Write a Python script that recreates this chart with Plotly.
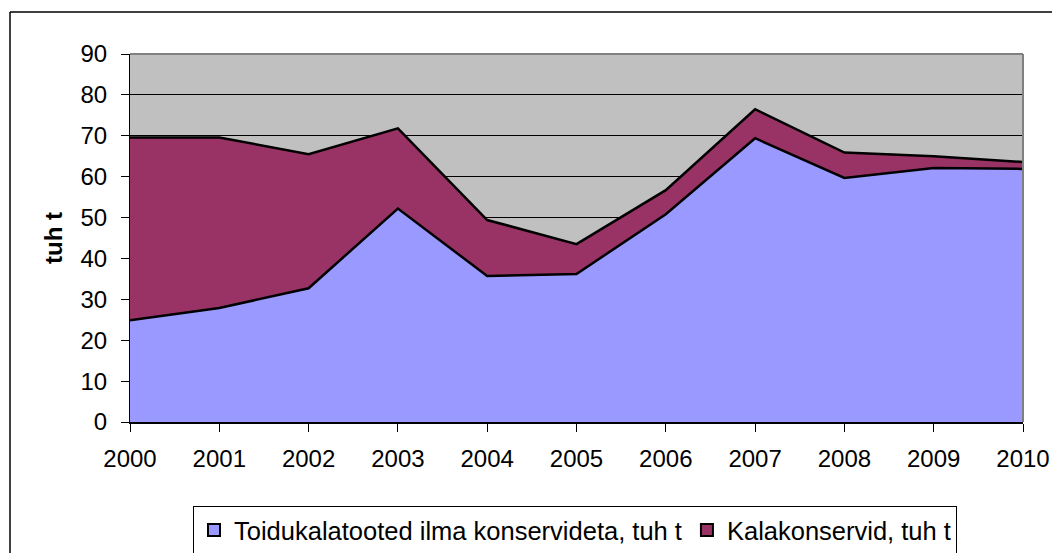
import plotly.graph_objects as go

years = [2000, 2001, 2002, 2003, 2004, 2005, 2006, 2007, 2008, 2009, 2010]
toidukala = [24.9, 27.9, 32.7, 52.2, 35.7, 36.2, 50.8, 69.4, 59.7, 62.1, 61.9]
kalakonservid = [44.7, 41.7, 32.8, 19.6, 13.7, 7.3, 5.9, 7.1, 6.2, 2.9, 1.7]
series_names = ["Toidukalatooted ilma konservideta, tuh t", "Kalakonservid, tuh t"]
series_colors = ["#9999FF", "#993366"]
y_ticks = [0, 10, 20, 30, 40, 50, 60, 70, 80, 90]

FONT = "Liberation Sans, Arial, sans-serif"

fig = go.Figure()
for name, vals, col in zip(series_names, [toidukala, kalakonservid], series_colors):
    fig.add_trace(go.Scatter(
        x=years, y=vals, name=name, stackgroup="one", mode="lines",
        line=dict(color="black", width=2.5), fillcolor=col, showlegend=False,
        hoverinfo="x+y+name"))
# legend keys (square swatches)
for name, col in zip(series_names, series_colors):
    fig.add_trace(go.Scatter(x=[None], y=[None], name=name, mode="markers",
                             marker=dict(symbol="square", size=12, color=col,
                                         line=dict(color="black", width=2))))

# browser page has an 8px body margin; work in window pixels
OFF = 8
W, H = 1060 - OFF, 553 - OFF
PL, PR, PT, PB = 130, 1023, 54, 422  # plot area in window pixels
L, T = PL - OFF, PT - OFF
R = W - (PR - OFF)
B = H - (PB - OFF)
pw, ph = PR - PL, PB - PT

def px(x):
    return (x - PL) / pw

def py(y):
    return (PB - y) / ph

fig.update_layout(
    width=W, height=H,
    margin=dict(l=L, r=R, t=T, b=B, autoexpand=False),
    paper_bgcolor="white",
    plot_bgcolor="#C0C0C0",
    font=dict(family=FONT, size=24, color="black"),
    showlegend=True,
    legend=dict(orientation="h", x=px(193), y=py(506), xanchor="left", yanchor="top",
                bordercolor="black", borderwidth=1, bgcolor="white",
                font=dict(size=25.5), itemwidth=30, traceorder="normal"),
    xaxis=dict(range=[2000, 2010], tickvals=years, ticks="outside", ticklen=8,
               tickcolor="black", showline=True, linecolor="black", linewidth=2,
               showgrid=False, zeroline=False, fixedrange=True, ticklabelstandoff=6),
    yaxis=dict(range=[0, 90], tickvals=y_ticks, ticks="outside", ticklen=8,
               tickcolor="black", showline=True, linecolor="black", linewidth=1,
               showgrid=True, gridcolor="black", gridwidth=1, zeroline=False,
               fixedrange=True, ticklabelstandoff=9),
    annotations=[dict(text="<b>tuh t</b>", x=px(53), y=0.5, xref="paper", yref="paper",
                      textangle=-90, showarrow=False, font=dict(size=24),
                      xanchor="center", yanchor="middle")],
    shapes=[
        dict(type="line", xref="paper", yref="paper", x0=0, x1=1, y0=1, y1=1,
             line=dict(color="#808080", width=2)),
        dict(type="line", xref="paper", yref="paper", x0=1, x1=1, y0=0, y1=1,
             line=dict(color="#808080", width=2)),
        dict(type="line", xref="paper", yref="paper", x0=px(10), x1=1.2, y0=py(12), y1=py(12),
             line=dict(color="black", width=1.5)),
        dict(type="line", xref="paper", yref="paper", x0=px(10), x1=px(10), y0=py(12), y1=-0.5,
             line=dict(color="black", width=1.5)),
    ],
)

fig.write_html("out.html")
